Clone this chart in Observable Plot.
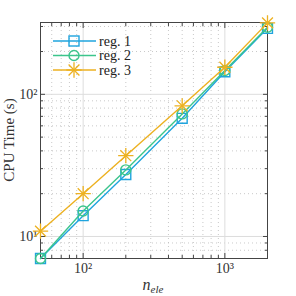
<!DOCTYPE html>
<html><head><meta charset="utf-8">
<script src="https://cdn.jsdelivr.net/npm/d3@7"></script>
<script src="https://cdn.jsdelivr.net/npm/@observablehq/plot@0.6"></script>
<style>
html,body{margin:0;padding:0;background:#fff;}
#chart{position:relative;width:296px;height:296px;}
</style>
</head><body><div id="chart"></div>
<script>
const nele = [50, 100, 200, 500, 1000, 2000];
const reg1 = [7.0, 14.0, 27.3, 67.8, 144, 291];
const reg2 = [7.0, 15.1, 29.4, 72.8, 147, 296];
const reg3 = [10.9, 20.0, 37.0, 83.0, 155, 318];
const seriesNames = ["reg. 1", "reg. 2", "reg. 3"];
const seriesColors = ["#1fa4de", "#3cc58c", "#edb120"];
const xMajor = [100, 1000];
const xMinor = [50, 60, 70, 80, 90, 200, 300, 400, 500, 600, 700, 800, 900, 2000];
const yMajor = [10, 100];
const yMinor = [7, 8, 9, 20, 30, 40, 50, 60, 70, 80, 90, 200, 300];
const sup = {1: "\u00b9", 2: "\u00b2", 3: "\u00b3"};

const allSeries = [reg1, reg2, reg3];
const data = allSeries.flatMap((vals, i) => vals.map((v, j) => ({n: nele[j], t: v, s: seriesNames[i]})));
const byS = name => data.filter(d => d.s === name);

const font = "Liberation Serif, serif";
const axisCol = "#444";

const plot = Plot.plot({
  width: 296, height: 296,
  marginLeft: 40, marginRight: 29, marginTop: 22, marginBottom: 38,
  style: {fontFamily: font, fontSize: "13px", color: "#333", background: "#fff"},
  x: {type: "log", domain: [50, 2000]},
  y: {type: "log", domain: [7, 320]},
  marks: [
    Plot.gridX(xMinor, {stroke: "#bbb", strokeOpacity: 1, strokeDasharray: "1,3", strokeWidth: 0.8}),
    Plot.gridY(yMinor, {stroke: "#bbb", strokeOpacity: 1, strokeDasharray: "1,3", strokeWidth: 0.8}),
    Plot.gridX(xMajor, {stroke: "#ddd", strokeOpacity: 1, strokeWidth: 1}),
    Plot.gridY(yMajor, {stroke: "#ddd", strokeOpacity: 1, strokeWidth: 1}),
    Plot.axisX(xMajor, {anchor: "bottom", tickSize: -5, stroke: axisCol, tickPadding: 10,
      tickFormat: d => "10" + sup[Math.round(Math.log10(d))], fontSize: 14, label: null}),
    Plot.axisX(xMajor, {anchor: "top", tickSize: -5, stroke: axisCol, text: null, label: null}),
    Plot.axisX(xMinor, {anchor: "bottom", tickSize: -3, stroke: axisCol, text: null, label: null}),
    Plot.axisX(xMinor, {anchor: "top", tickSize: -3, stroke: axisCol, text: null, label: null}),
    Plot.axisY(yMajor, {anchor: "left", tickSize: -5, stroke: axisCol, tickPadding: 8,
      tickFormat: d => "10" + sup[Math.round(Math.log10(d))], fontSize: 14, label: null}),
    Plot.axisY(yMajor, {anchor: "right", tickSize: -5, stroke: axisCol, text: null, label: null}),
    Plot.axisY(yMinor, {anchor: "left", tickSize: -3, stroke: axisCol, text: null, label: null}),
    Plot.axisY(yMinor, {anchor: "right", tickSize: -3, stroke: axisCol, text: null, label: null}),
    Plot.frame({stroke: axisCol, strokeWidth: 1}),
    Plot.line(byS(seriesNames[0]), {x: "n", y: "t", stroke: seriesColors[0], strokeWidth: 1.4}),
    Plot.dot(byS(seriesNames[0]), {x: "n", y: "t", stroke: seriesColors[0], symbol: "square", r: 5.6, strokeWidth: 1.4, fill: "none"}),
    Plot.line(byS(seriesNames[1]), {x: "n", y: "t", stroke: seriesColors[1], strokeWidth: 1.4}),
    Plot.dot(byS(seriesNames[1]), {x: "n", y: "t", stroke: seriesColors[1], symbol: "circle", r: 5, strokeWidth: 1.4, fill: "none"}),
    Plot.line(byS(seriesNames[2]), {x: "n", y: "t", stroke: seriesColors[2], strokeWidth: 1.4}),
    Plot.dot(byS(seriesNames[2]), {x: "n", y: "t", stroke: seriesColors[2], symbol: "plus", r: 5, strokeWidth: 1.3}),
    Plot.dot(byS(seriesNames[2]), {x: "n", y: "t", stroke: seriesColors[2], symbol: "times", r: 5, strokeWidth: 1.3})
  ]
});

const svg = d3.select(plot);
// axis labels
svg.append("text").attr("x", 153).attr("y", 290).attr("text-anchor", "middle")
  .attr("font-family", font).attr("font-size", 16).attr("font-style", "italic").attr("fill", "#333")
  .html('n<tspan font-size="11" dy="3">ele</tspan>');
svg.append("text").attr("transform", "translate(14,140) rotate(-90)").attr("text-anchor", "middle")
  .attr("font-family", font).attr("font-size", 15).attr("fill", "#333").text("CPU Time (s)");

// legend
seriesNames.forEach((name, i) => {
  const y = 41 + i * 14.5, x0 = 53, x1 = 96, xm = 74;
  const g = svg.append("g");
  g.append("line").attr("x1", x0).attr("x2", x1).attr("y1", y).attr("y2", y)
    .attr("stroke", seriesColors[i]).attr("stroke-width", 1.4);
  if (i === 0) g.append("rect").attr("x", xm - 5).attr("y", y - 5).attr("width", 10).attr("height", 10)
    .attr("fill", "none").attr("stroke", seriesColors[i]).attr("stroke-width", 1.4);
  if (i === 1) g.append("circle").attr("cx", xm).attr("cy", y).attr("r", 5)
    .attr("fill", "none").attr("stroke", seriesColors[i]).attr("stroke-width", 1.4);
  if (i === 2) {
    g.append("path").attr("d", d3.symbol(d3.symbolPlus, 78.5)()).attr("transform", `translate(${xm},${y})`)
      .attr("fill", "none").attr("stroke", seriesColors[i]).attr("stroke-width", 1.3);
    g.append("path").attr("d", d3.symbol(d3.symbolTimes, 78.5)()).attr("transform", `translate(${xm},${y})`)
      .attr("fill", "none").attr("stroke", seriesColors[i]).attr("stroke-width", 1.3);
  }
  g.append("text").attr("x", x1 + 3).attr("y", y).attr("dy", "0.35em").attr("text-anchor", "start")
    .attr("font-family", font).attr("font-size", 14).attr("fill", "#222").text(name);
});

document.getElementById("chart").appendChild(plot);
</script>
</body></html>
